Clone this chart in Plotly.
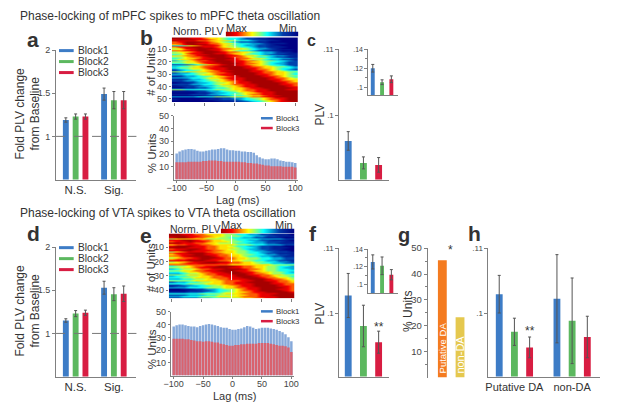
import plotly.graph_objects as go

W, H = 617, 407
FONT = "Liberation Sans, Arial, Helvetica, sans-serif"
BLUE, GREEN, RED = "#3d7cc6", "#5cb85f", "#d81d42"
LBLUE, LRED = "#86a9da", "#d9626e"
ORANGE, YELLOW = "#f47b20", "#e5c84e"
AX = "#808080"

# ------------------ DATA ------------------
blocks = ["Block1", "Block2", "Block3"]
groups = ["N.S.", "Sig."]

# a: mPFC fold PLV change (N.S. / Sig.)
a_ns = [1.19, 1.23, 1.23]
a_ns_err = [0.025, 0.03, 0.03]
a_sig = [1.49, 1.42, 1.42]
a_sig_err = [0.07, 0.10, 0.10]

# d: VTA fold PLV change
d_ns = [1.15, 1.23, 1.24]
d_ns_err = [0.02, 0.035, 0.03]
d_sig = [1.53, 1.455, 1.46]
d_sig_err = [0.075, 0.075, 0.09]

# lags
lag10 = list(range(-100, 101, 10))
lag5 = list(range(-100, 101, 5))

# b: normalised PLV per mPFC unit (0 = min, 9 = max), rows sorted by peak lag
b_rows = [
    "999887665443221100000", "899988765443322110000", "988877666654432211000",
    "789998765432221100000", "779988776654433211100", "678999876544332210000",
    "345678886654332211000", "788998876554432211100", "568899987766543321000",
    "667899887665543221110", "778899987654432211000", "566789998776654332110",
    "557889988766544332211", "456788999876554322111", "667789999887665543321",
    "556778999877654432211", "456678899987766544332", "566788999887655433211",
    "345677899988776554432", "556678899988766544322", "445567889998776543322",
    "122345678988766544322", "445667889998876654432", "344567789999877665543",
    "455667888999887665443", "234556788999987765432", "234456678899988766544",
    "556666778999988776655", "233455677899998776654", "334456678899998876654",
    "223345567889999877655", "123344566789999887654", "333445667888999987765",
    "112334556788999988766", "223344566778999998776", "112234456678899998876",
    "011233455678899999877", "222334456677889999887", "011123345567889999987",
    "112233455667889999988", "001122344566788999998", "554444455566778899988",
    "000112334556778899999", "111122334456678889999", "000011233445667889999",
    "111222334455677889999", "000001122344566788999", "333344455566677889999",
    "000000112233455678899", "100001112223445677899", "000000011122344567899",
    "000000001112234567889",
]

# e: normalised PLV per VTA unit
e_rows = [
    "998877666554433221110", "999887766555443322111", "899877665544332211100",
    "566666555554444333322", "889987766554433221110", "788988766655443322211",
    "998877665554433322111", "677887766665554433322", "899988776654433221100",
    "999888776665443221110", "788998776655433221100", "889988877665543322110",
    "567888776665544332221", "788999877665544322111", "678899887766554433221",
    "778999987766544332211", "567789998776655443322", "677889988776655443322",
    "888999887766554433221", "566788999877665544332", "667889998877665443322",
    "777777777766666665555", "455677889998776655443", "556678899988776655433",
    "345567788999877655443", "556677889998876655444", "445667788999887665543",
    "334556778899987765544", "555666778889988776655", "344556677889998776554",
    "445566677788999877665", "334455667788899987765", "555566666777889988776",
    "233445566778899998776", "444555666778889998877", "223344556677889999877",
    "122334455667889999887", "333444555667788999987", "001122334556788999887",
    "000112234456778999987", "111222334556678899998", "444445555666777888999",
    "222333445556677889999", "334445556666777888999", "112223344455667788999",
]

cbar_levels = [9, 8, 7, 6, 5, 4, 3, 2, 1, 0]

# % units phase-locked at each lag
b_blk1 = [20.5, 22, 23, 23.5, 24, 24, 23.5, 22.5, 22, 22, 22.5, 23, 23.5, 23.5,
          24, 24.5, 24.5, 23.5, 23, 23, 22.5, 22.5, 22, 22, 21.5, 21.5, 21, 19,
          17.5, 16.5, 16, 16, 16.5, 16.5, 16, 15, 14.5, 14, 14, 13.5, 13]
b_blk3 = [13.5, 13.5, 13.5, 13.5, 14, 14, 14, 14, 14, 14.5, 14.5, 15, 15, 15,
          14.5, 14.5, 14, 14, 14, 14, 14, 14, 13.5, 13.5, 13, 13, 12.5, 12.5,
          12, 11.5, 11, 11, 10.5, 10.5, 10.5, 10.5, 10, 10, 10, 10, 9.5]
e_blk1 = [38.5, 39.5, 40, 40, 39.5, 39, 38.5, 38.5, 38, 39, 39.5, 40, 40.5, 40,
          39.5, 39, 38, 37.5, 37.5, 36.5, 36, 36, 36.5, 37, 38, 39, 38.5, 37.5,
          36.5, 37, 37.5, 37.5, 37.5, 37, 36.5, 36, 35, 34, 32.5, 30, 27]
e_blk3 = [29, 29, 29, 29, 28.5, 28.5, 28, 27.5, 27, 27, 26.5, 27, 27, 26.5, 26,
          26, 25, 24.5, 24, 23.5, 23.5, 24, 24, 24.5, 24.5, 25, 25, 25, 25,
          25.5, 25.5, 25.5, 25.5, 25, 24.5, 24, 23.5, 23.5, 23, 22, 18.5]

# c / f: PLV per block (main) and inset
c_plv = [0.0962, 0.0929, 0.0926]
c_err = [0.0014, 0.0009, 0.0011]
c_in = [0.1200, 0.1054, 0.1085]
c_in_err = [0.004, 0.0025, 0.0035]
f_plv = [0.1027, 0.0980, 0.0955]
f_err = [0.0034, 0.0032, 0.0017]
f_in = [0.1255, 0.1211, 0.1110]
f_in_err = [0.008, 0.010, 0.0058]

# g: % units putative DA vs non-DA
g_cats = ["Putative DA", "non-DA"]
g_pct = [45.3, 23.3]

# h: PLV by cell type
h_cats = ["Putative DA", "non-DA"]
h_da = [0.1029, 0.0971, 0.0947]
h_da_err = [0.0029, 0.0021, 0.0016]
h_non = [0.1022, 0.0988, 0.0963]
h_non_err = [0.0068, 0.0066, 0.0032]

colors = [BLUE, GREEN, RED]


# ------------------ HELPERS ------------------
def xd(a, b):
    return [a / W, b / W]


def yd(top, bot):
    return [1 - bot / H, 1 - top / H]


def axis(**kw):
    d = dict(showgrid=False, zeroline=False, showline=True, linecolor=AX,
             linewidth=1, ticks="outside", tickcolor=AX, ticklen=3, tickwidth=1,
             tickfont=dict(size=9.5, color="#444", family=FONT), fixedrange=True)
    d.update(kw)
    return d


def txt(s, x, y, size, xa="center", ya="middle", angle=0, color="#333", bold=False):
    return dict(text="<b>%s</b>" % s if bold else s, x=x / W, y=1 - y / H,
                xref="paper", yref="paper", xanchor=xa, yanchor=ya,
                textangle=angle, showarrow=False,
                font=dict(size=size, color=color, family=FONT))


def sfx(n):
    return "" if n == 1 else str(n)


def bars(fig, n, xs, ys, errs, color, width):
    fig.add_trace(go.Bar(
        x=xs, y=ys, width=width, marker=dict(color=color, line=dict(width=0)),
        error_y=dict(type="data", array=errs, color="#555", thickness=1, width=1.5),
        xaxis="x" + sfx(n), yaxis="y" + sfx(n), showlegend=False))


fig = go.Figure()
layout = {}
shapes = []
anns = []


def set_axes(n, xdom, ydom, xo, yo):
    layout["xaxis" + sfx(n)] = dict(domain=xdom, anchor="y" + sfx(n), **xo)
    layout["yaxis" + sfx(n)] = dict(domain=ydom, anchor="x" + sfx(n), **yo)


# ------------------ a / d : fold change ------------------
for n, top, ns, ns_e, sig, sig_e in [(1, 45, a_ns, a_ns_err, a_sig, a_sig_err),
                                     (7, 246, d_ns, d_ns_err, d_sig, d_sig_err)]:
    for i in range(3):
        bars(fig, n, [1 + i, 4.9 + i], [ns[i], sig[i]], [ns_e[i], sig_e[i]], colors[i], 0.6)
    set_axes(n, xd(50, 132), yd(top, top + 132),
             axis(range=[0, 8.2], ticks="", tickvals=[2, 5.9], ticktext=groups,
                  tickfont=dict(size=11.5, color="#333", family=FONT)),
             axis(range=[0.5, 2], tickvals=[1, 1.5, 2], ticktext=["1", "1.5", "2"],
                  tickfont=dict(size=9, color="#444", family=FONT)))
    shapes.append(dict(type="line", xref="x%s domain" % sfx(n), yref="y" + sfx(n),
                       x0=0, x1=1, y0=1, y1=1, line=dict(color="#777", width=1, dash="dash")))
    for i, name in enumerate(blocks):
        yy = top + 0.5 + i * 11.2
        shapes.append(dict(type="line", xref="paper", yref="paper", x0=53 / W, x1=68 / W,
                           y0=1 - yy / H, y1=1 - yy / H, line=dict(color=colors[i], width=3)))
        anns.append(txt(name, 70, yy, 10.2, xa="left"))
    anns.append(txt("Fold PLV change<br>from Baseline", 21, top + 65, 12, angle=-90))

# ------------------ b / e : heatmaps + lag histograms ------------------
for (nh, nc, nb, rows, hx, htop, hbot, cx0, ctop, btop, blk1, blk3, leg_y) in [
        (2, 3, 4, b_rows, (168, 297), 32, 98, 223, 26, 112, b_blk1, b_blk3, 115),
        (8, 9, 10, e_rows, (165, 293), 232, 298, 218, 227, 312, e_blk1, e_blk3, 312)]:
    nrow = len(rows)
    fig.add_trace(go.Heatmap(
        z=[[int(c) for c in r] for r in rows], x=lag10, y=list(range(1, nrow + 1)),
        colorscale="Jet", zmin=0, zmax=9.6, zsmooth="best", showscale=False,
        xaxis="x" + sfx(nh), yaxis="y" + sfx(nh)))
    set_axes(nh, xd(*hx), yd(htop, hbot),
             axis(range=[-105, 105], showline=False, tickvals=[-100, -50, 0, 50, 100],
                  showticklabels=False),
             axis(range=[nrow + 0.5, 0.5], showline=False, tickvals=[10, 20, 30, 40, 50],
                  ticklen=2, tickfont=dict(size=9, color="#444", family=FONT)))
    shapes.append(dict(type="line", xref="x" + sfx(nh), yref="y%s domain" % sfx(nh),
                       x0=0, x1=0, y0=0, y1=1, line=dict(color="white", width=1, dash="dash")))

    fig.add_trace(go.Heatmap(
        z=[cbar_levels], x=list(range(len(cbar_levels))), y=[0],
        colorscale="Jet", zmin=0, zmax=9.6, zsmooth="best", showscale=False,
        xaxis="x" + sfx(nc), yaxis="y" + sfx(nc)))
    set_axes(nc, xd(cx0, hx[1]), yd(ctop, ctop + 5),
             dict(visible=False, range=[0, len(cbar_levels) - 1], fixedrange=True),
             dict(visible=False, range=[-0.5, 0.5], fixedrange=True))
    anns.append(txt("Norm. PLV", hx[0] + 27, ctop + 0, 10.5))
    anns.append(txt("Max", cx0 + 11, ctop - 4, 11))
    anns.append(txt("Min", hx[1] - 10, ctop - 4, 11))

    fig.add_trace(go.Bar(x=lag5, y=blk1, width=4.2, marker=dict(color=LBLUE, line=dict(width=0)),
                         xaxis="x" + sfx(nb), yaxis="y" + sfx(nb), showlegend=False))
    fig.add_trace(go.Bar(x=lag5, y=blk3, width=4.2, marker=dict(color=LRED, line=dict(width=0)),
                         xaxis="x" + sfx(nb), yaxis="y" + sfx(nb), showlegend=False))
    set_axes(nb, xd(hx[0] + 2, hx[1]), yd(btop, btop + 65),
             axis(range=[-105, 105], tickvals=[-100, -50, 0, 50, 100], ticklen=2,
                  ticklabelstandoff=-2, tickfont=dict(size=9, color="#444", family=FONT)),
             axis(range=[0, 50], tickvals=[10, 20, 30, 40, 50], ticklen=2,
                  tickfont=dict(size=9, color="#444", family=FONT)))
    for i, col in enumerate([BLUE, RED]):
        yy = leg_y - 0.5 + i * 10
        shapes.append(dict(type="line", xref="paper", yref="paper", x0=259 / W, x1=271 / W,
                           y0=1 - yy / H, y1=1 - yy / H, line=dict(color=col, width=2.5)))
    anns.append(txt("Block1<br>Block3", 272, leg_y + 4.5, 7.8, xa="left"))
    anns.append(txt("# of Units", 147, (htop + hbot) / 2 + 2, 11.5, angle=-90))
    anns.append(txt("% Units", 148, btop + 38, 11.5, angle=-90))
    anns.append(txt("Lag (ms)", (hx[0] + hx[1]) / 2 + 3, btop + 86, 11))

# ------------------ c / f : PLV ------------------
for (nm, ni, top, vals, errs, ivals, ierrs, mlo, ilo, itop, ibot) in [
        (5, 6, 44, c_plv, c_err, c_in, c_in_err, 0.0904, 0.0918, 44, 91),
        (11, 12, 247, f_plv, f_err, f_in, f_in_err, 0.0902, 0.09, 248, 293)]:
    for i in range(3):
        bars(fig, nm, [1 + i], [vals[i]], [errs[i]], colors[i], 0.45)
        bars(fig, ni, [1 + i], [ivals[i]], [ierrs[i]], colors[i], 0.42)
    set_axes(nm, xd(339, 390), yd(top, top + 133 if nm == 5 else top + 131),
             axis(range=[0.42, 3.71], ticks="", showticklabels=False),
             axis(range=[mlo, 0.11], tickvals=[0.1, 0.11], ticktext=[".1", ".11"],
                  tickfont=dict(size=8, color="#444", family=FONT)))
    set_axes(ni, xd(368, 399), yd(itop, ibot),
             axis(range=[0.47, 3.74], ticks="", showticklabels=False),
             axis(range=[ilo, 0.14], tickvals=[0.1, 0.12, 0.14], ticktext=[".1", ".12", ".14"],
                  ticklen=2.5, tickfont=dict(size=7, color="#444", family=FONT),
                  minor=dict(tickvals=[0.11, 0.13], ticks="outside", ticklen=2, tickcolor=AX)))
    anns.append(txt("PLV", 319, top + 67, 12, angle=-90))

anns.append(txt("**", 379, 327, 12))

# ------------------ g : % units by type ------------------
fig.add_trace(go.Bar(x=[1, 2], y=g_pct, width=0.5, marker=dict(color=[ORANGE, YELLOW], line=dict(width=0)),
                     xaxis="x13", yaxis="y13", showlegend=False))
set_axes(13, xd(429, 475), yd(247, 379),
         axis(range=[0.17, 2.72], showline=False, ticks="", showticklabels=False),
         axis(range=[0, 50], tickvals=[10, 20, 30, 40, 50],
              minor=dict(tickvals=[5, 15, 25, 35, 45], ticks="outside", ticklen=2, tickcolor=AX)))
for i, (name, size) in enumerate(zip(g_cats, [9.5, 11])):
    anns.append(dict(text=name, x=1 + i, y=1 - 377 / H, xref="x13", yref="paper",
                     xanchor="center", yanchor="bottom", textangle=-90, showarrow=False,
                     font=dict(size=size, color="white", family=FONT)))
anns.append(txt("*", 452, 249, 12))
anns.append(txt("% Units", 409, 312, 12, angle=-90))

# ------------------ h : PLV by type ------------------
for i in range(3):
    bars(fig, 14, [1 + i, 4.8 + i], [h_da[i], h_non[i]], [h_da_err[i], h_non_err[i]], colors[i], 0.45)
set_axes(14, xd(491, 605), yd(247, 378),
         axis(range=[0.29, 7.65], ticks="", tickvals=[2, 5.8], ticktext=h_cats,
              tickfont=dict(size=11, color="#333", family=FONT)),
         axis(range=[0.0902, 0.11], tickvals=[0.1, 0.11], ticktext=[".1", ".11"],
              tickfont=dict(size=8, color="#444", family=FONT)))
anns.append(txt("**", 533, 332, 12))

# ------------------ titles / panel letters ------------------
anns.append(txt("Phase-locking of mPFC spikes to mPFC theta oscillation", 11, 10, 12, xa="left"))
anns.append(txt("Phase-locking of VTA spikes to VTA theta oscillation", 11, 211, 12, xa="left"))
for s, x, y, size in [("a", 27, 34, 21), ("b", 142, 32, 21), ("c", 311, 35, 16),
                      ("d", 27, 232, 21), ("e", 142, 234, 21), ("f", 312, 232, 21),
                      ("g", 405, 234, 20), ("h", 477, 232, 21)]:
    anns.append(txt(s, x, y, size, bold=True))

fig.update_layout(
    width=W, height=H, margin=dict(l=0, r=0, t=0, b=0),
    paper_bgcolor="white", plot_bgcolor="rgba(0,0,0,0)",
    barmode="overlay", showlegend=False, font=dict(family=FONT, color="#333"),
    shapes=shapes, annotations=anns, **layout)

fig.write_html("out.html", config={"displayModeBar": False},
               post_script="document.body.style.margin='0';document.body.style.overflow='hidden';")
